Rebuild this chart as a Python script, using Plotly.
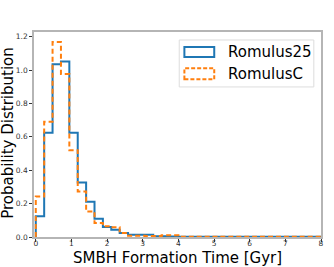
import plotly.graph_objects as go

# ---- data ----
BIN_EDGES = [0.0, 0.2353, 0.4706, 0.7059, 0.9412, 1.1765, 1.4118, 1.6471, 1.8824, 2.1176,
             2.3529, 2.5882, 2.8235, 3.0588, 3.2941, 3.5294, 3.7647, 4.0, 4.2353, 4.4706,
             4.7059, 4.9412, 5.1765, 5.4118, 5.6471, 5.8824, 6.1176, 6.3529, 6.5882, 6.8235,
             7.0588, 7.2941, 7.5294, 7.7647, 8.0]
ROMULUS25 = [0.125, 0.625, 1.035, 1.052, 0.625, 0.327, 0.211, 0.110, 0.060, 0.044,
             0.024, 0.014, 0.014, 0.014, 0.004, 0.004, 0.003, 0.002, 0.002, 0.001,
             0.002, 0.001, 0.001, 0.002, 0.001, 0.001, 0.001, 0.002, 0.001, 0.001,
             0.001, 0.001, 0.001, 0.001]
ROMULUSC = [0.243, 0.690, 1.168, 0.976, 0.520, 0.273, 0.153, 0.084, 0.065, 0.058,
            0.024, 0.008, 0.008, 0.006, 0.006, 0.010, 0.010, 0.002, 0.002, 0.001,
            0.001, 0.002, 0.001, 0.001, 0.001, 0.002, 0.001, 0.001, 0.001, 0.001,
            0.002, 0.001, 0.001, 0.001]
SERIES_NAMES = ["Romulus25", "RomulusC"]
X_TICKS = [0, 1, 2, 3, 4, 5, 6, 7, 8]
Y_TICKS = [0.0, 0.2, 0.4, 0.6, 0.8, 1.0, 1.2]
X_TITLE = "SMBH Formation Time [Gyr]"
Y_TITLE = "Probability Distribution"

BLUE = "#1f77b4"
ORANGE = "#ff7f0e"


def step_xy(edges, vals):
    xs = [edges[0]] + list(edges[:-1]) + [edges[-1]]
    ys = [0] + list(vals) + [0]
    return xs, ys


fig = go.Figure()
xb, yb = step_xy(BIN_EDGES, ROMULUS25)
fig.add_trace(go.Scatter(x=xb, y=yb, mode="lines", line_shape="hv",
                         line=dict(color=BLUE, width=2), cliponaxis=False,
                         name=SERIES_NAMES[0], showlegend=False))
xo, yo = step_xy(BIN_EDGES, ROMULUSC)
fig.add_trace(go.Scatter(x=xo, y=yo, mode="lines", line_shape="hv",
                         line=dict(color=ORANGE, width=2, dash="5px,3px"), cliponaxis=False,
                         name=SERIES_NAMES[1], showlegend=False))

axis_common = dict(showline=True, mirror=True, linecolor="#b5b5b5", linewidth=1.5,
                   showgrid=False, zeroline=False, ticks="outside", ticklen=3,
                   tickwidth=1, tickcolor="#333333",
                   tickfont=dict(family="DejaVu Sans", size=7.5, color="#333333"))

fig.update_xaxes(range=[-0.05, 8.0], tickvals=X_TICKS, layer="below traces",
                 ticklabelstandoff=-5, **axis_common)
fig.update_yaxes(range=[0, 1.228], tickvals=Y_TICKS, tickformat=".1f", **axis_common)

shapes = [
    dict(type="rect", xref="paper", yref="paper", x0=0.506, x1=0.975, y0=0.732, y1=0.961,
         line=dict(color="#dddddd", width=1), fillcolor="rgba(255,255,255,0.8)"),
    dict(type="rect", xref="paper", yref="paper", x0=0.524, x1=0.628, y0=0.878, y1=0.927,
         line=dict(color=BLUE, width=2), fillcolor="rgba(0,0,0,0)"),
    dict(type="rect", xref="paper", yref="paper", x0=0.524, x1=0.628, y0=0.769, y1=0.823,
         line=dict(color=ORANGE, width=2, dash="4px,2px"), fillcolor="rgba(0,0,0,0)"),
]

annotations = [
    dict(text=SERIES_NAMES[0], xref="paper", yref="paper", x=0.670, y=0.904,
         xanchor="left", yanchor="middle", showarrow=False,
         font=dict(family="DejaVu Sans", size=15, color="#000000")),
    dict(text=SERIES_NAMES[1], xref="paper", yref="paper", x=0.670, y=0.795,
         xanchor="left", yanchor="middle", showarrow=False,
         font=dict(family="DejaVu Sans", size=15, color="#000000")),
    dict(text=X_TITLE, xref="paper", yref="paper", x=0.5, y=-0.100,
         xanchor="center", yanchor="middle", showarrow=False,
         font=dict(family="DejaVu Sans", size=15, color="#000000")),
    dict(text=Y_TITLE, xref="paper", yref="paper", x=-0.0914, y=0.507, textangle=-90,
         xanchor="center", yanchor="middle", showarrow=False,
         font=dict(family="DejaVu Sans", size=15, color="#000000")),
]

fig.update_layout(width=334, height=267,
                  margin=dict(l=34, r=10, t=32, b=30, pad=0),
                  paper_bgcolor="white", plot_bgcolor="white",
                  showlegend=False, shapes=shapes, annotations=annotations)

fig.write_html("out.html", config={"displayModeBar": False},
               post_script="document.body.style.margin='0px';document.body.style.overflow='hidden';")
